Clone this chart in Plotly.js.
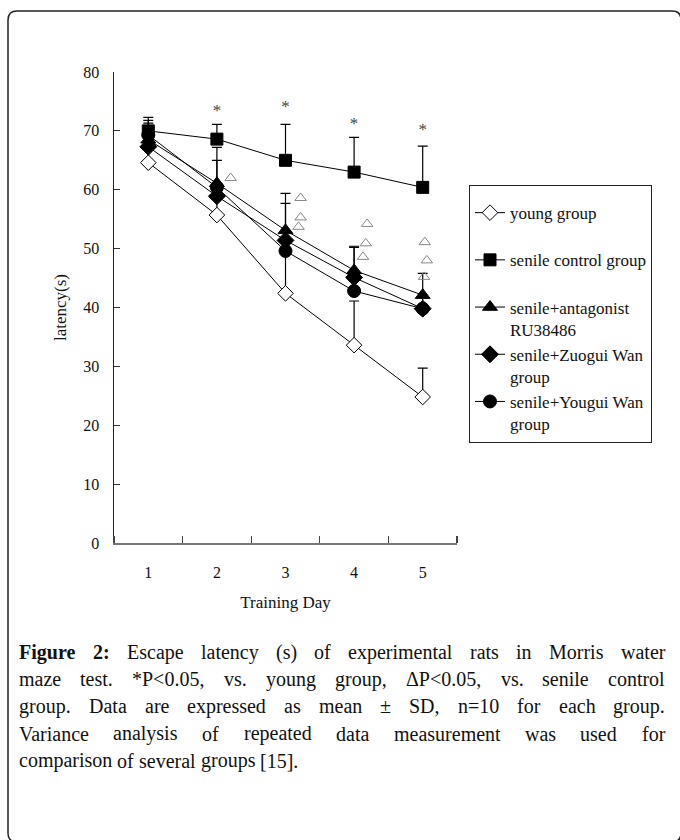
<!DOCTYPE html>
<html><head><meta charset="utf-8">
<script src="https://cdn.plot.ly/plotly-3.0.1.min.js"></script>
<style>body{margin:0;background:#fff}#chart{width:680px;height:840px}</style>
</head><body><div id="chart"></div>
<script>
// ---- data ----
const days = [1, 2, 3, 4, 5];
const dayLabels = ['1', '2', '3', '4', '5'];
const young = [64.6, 55.7, 42.4, 33.6, 24.8];
const youngSD = [0, 9.3, 15.3, 7.5, 4.9];
const senile = [70.0, 68.6, 65.0, 63.0, 60.4];
const senileSD = [2.3, 2.5, 6.1, 5.9, 7.0];
const antagonist = [68.5, 61.1, 53.1, 46.3, 42.1];
const antagonistSD = [2.8, 6.1, 6.3, 4.1, 3.7];
const zuogui = [67.3, 58.9, 51.4, 45.1, 39.8];
const zuoguiSD = [0, 0, 0, 5.1, 0];
const yougui = [69.3, 60.4, 49.6, 42.8, 39.8];
const youguiSD = [2.5, 0, 0, 0, 2.0];
// significance marks
const starDay = [2, 3, 4, 5];
const starY = [73.2, 74.0, 71.1, 70.1];
const deltaDay = [2.2, 3.22, 3.22, 3.19, 4.19, 4.17, 4.13, 5.03, 5.06, 5.02];
const deltaY = [62.0, 58.6, 55.3, 53.7, 54.2, 50.9, 48.6, 51.1, 48.0, 45.2];

const seriesNames = ['young group', 'senile control group', 'senile+antagonist<br>RU38486',
  'senile+Zuogui Wan<br>group', 'senile+Yougui Wan<br>group'];

const captionLines = [
  'Figure 2: Escape latency (s) of experimental rats in Morris water',
  'maze test. *P<0.05, vs. young group, ΔP<0.05, vs. senile control',
  'group. Data are expressed as mean ± SD, n=10 for each group.',
  'Variance analysis of repeated data measurement was used for',
  'comparison of several groups [15].'
];

// ---- layout geometry ----
const W = 680, H = 840;
const M = {l: 114, r: 223, t: 72, b: 297};
const PW = W - M.l - M.r, PH = H - M.t - M.b;
const px = p => (p - M.l) / PW;
const py = p => (H - M.b - p) / PH;
const serif = 'Liberation Serif, Times New Roman, serif';

function zeros(a){ return a.map(() => 0); }
function mk(y, sd, name, symbol, size, fill){
  return {
    x: days, y: y, name: name, type: 'scatter', mode: 'lines+markers',
    line: {color: '#000', width: 1},
    marker: {symbol: symbol, size: size, color: fill, line: {color: '#000', width: 1}},
    error_y: {type: 'data', symmetric: false, array: sd, arrayminus: zeros(sd),
      color: '#000', thickness: 1.2, width: 5}
  };
}

const traces = [
  mk(young, youngSD, seriesNames[0] + '<br> ', 'diamond', 12, '#fff'),
  mk(senile, senileSD, seriesNames[1] + '<br> ', 'square', 12, '#000'),
  mk(antagonist, antagonistSD, seriesNames[2], 'triangle-up', 13, '#000'),
  mk(zuogui, zuoguiSD, seriesNames[3], 'diamond', 13, '#000'),
  mk(yougui, youguiSD, seriesNames[4], 'circle', 13, '#000'),
  {x: starDay, y: starY, type: 'scatter', mode: 'text', text: starDay.map(() => '*'),
   textfont: {family: serif, size: 17, color: '#444'}, showlegend: false, hoverinfo: 'skip'},
  {x: deltaDay, y: deltaY, type: 'scatter', mode: 'markers',
   marker: {symbol: 'triangle-up-open', size: 10, color: '#888', line: {width: 1, color: '#888'}},
   showlegend: false, hoverinfo: 'skip'}
];

// ---- caption, justified ----
const annotations = [];
const ctx = document.createElement('canvas').getContext('2d');
const capSize = 20, capLeft = 18, capRight = 664, capY0 = 652, capLH = 27.2;
const esc = s => s.replace(/&/g, '&amp;').replace(/</g, '&lt;').replace(/>/g, '&gt;');
captionLines.forEach((line, i) => {
  const words = line.split(' ');
  const isBold = k => i === 0 && k < 2;
  const widths = words.map((w, k) => {
    ctx.font = (isBold(k) ? 'bold ' : '') + capSize + 'px "Liberation Serif"';
    return ctx.measureText(w).width;
  });
  const total = widths.reduce((a, b) => a + b, 0);
  ctx.font = capSize + 'px "Liberation Serif"';
  const justify = i < captionLines.length - 1;
  const gap = justify ? (capRight - capLeft - total) / (words.length - 1) : ctx.measureText(' ').width;
  let x = capLeft;
  words.forEach((w, k) => {
    annotations.push({
      xref: 'paper', yref: 'paper', x: px(x), y: py(capY0 + i * capLH),
      xanchor: 'left', yanchor: 'middle', showarrow: false, borderpad: 0,
      text: isBold(k) ? '<b>' + esc(w) + '</b>' : esc(w),
      font: {family: serif, size: capSize, color: '#111'}
    });
    x += widths[k] + gap;
  });
});

// outer rounded frame
const fx0 = 8, fy0 = 11, fx1 = 681, fy1 = 842, r = 9;
const framePath = [
  'M', px(fx0 + r), py(fy0), 'L', px(fx1 - r), py(fy0),
  'Q', px(fx1), py(fy0), px(fx1), py(fy0 + r),
  'L', px(fx1), py(fy1 - r), 'Q', px(fx1), py(fy1), px(fx1 - r), py(fy1),
  'L', px(fx0 + r), py(fy1), 'Q', px(fx0), py(fy1), px(fx0), py(fy1 - r),
  'L', px(fx0), py(fy0 + r), 'Q', px(fx0), py(fy0), px(fx0 + r), py(fy0), 'Z'
].map(v => typeof v === 'number' ? v.toFixed(5) : v).join(' ');

const layout = {
  width: W, height: H,
  margin: M,
  paper_bgcolor: '#fff', plot_bgcolor: '#fff',
  font: {family: serif, size: 16, color: '#111'},
  showlegend: true,
  legend: {
    x: px(469), y: py(185), xanchor: 'left', yanchor: 'top',
    bordercolor: '#222', borderwidth: 1, bgcolor: '#fff',
    font: {family: serif, size: 17, color: '#111'},
    title: {text: ' ', font: {family: serif, size: 7}},
    valign: 'top', tracegroupgap: 0
  },
  xaxis: {
    range: [0.5, 5.5], tickvals: days, ticktext: dayLabels, ticks: '',
    showline: true, linecolor: '#777', linewidth: 2, showgrid: false, zeroline: false,
    ticklabelstandoff: 14,
    minor: {tickvals: [0.5, 1.5, 2.5, 3.5, 4.5, 5.5], ticks: 'inside', ticklen: 7,
            tickcolor: '#444', tickwidth: 1.2, showgrid: false},
    title: {text: 'Training Day', font: {family: serif, size: 17, color: '#111'}, standoff: 16},
    tickfont: {family: serif, size: 16, color: '#111'}
  },
  yaxis: {
    range: [0, 80], tickvals: [0, 10, 20, 30, 40, 50, 60, 70, 80],
    ticks: 'inside', ticklen: 6, tickcolor: '#333', tickwidth: 1.2,
    showline: true, linecolor: '#222', linewidth: 1.5, showgrid: false, zeroline: false,
    ticklabelstandoff: 10,
    title: {text: 'latency(s)', font: {family: serif, size: 17, color: '#111'}, standoff: 12},
    tickfont: {family: serif, size: 16, color: '#111'}
  },
  annotations: annotations,
  shapes: [{type: 'path', xref: 'paper', yref: 'paper', path: framePath,
            line: {color: '#222', width: 1.5}, layer: 'above'}]
};

Plotly.newPlot('chart', traces, layout, {displayModeBar: false, staticPlot: true});
</script>
</body></html>
